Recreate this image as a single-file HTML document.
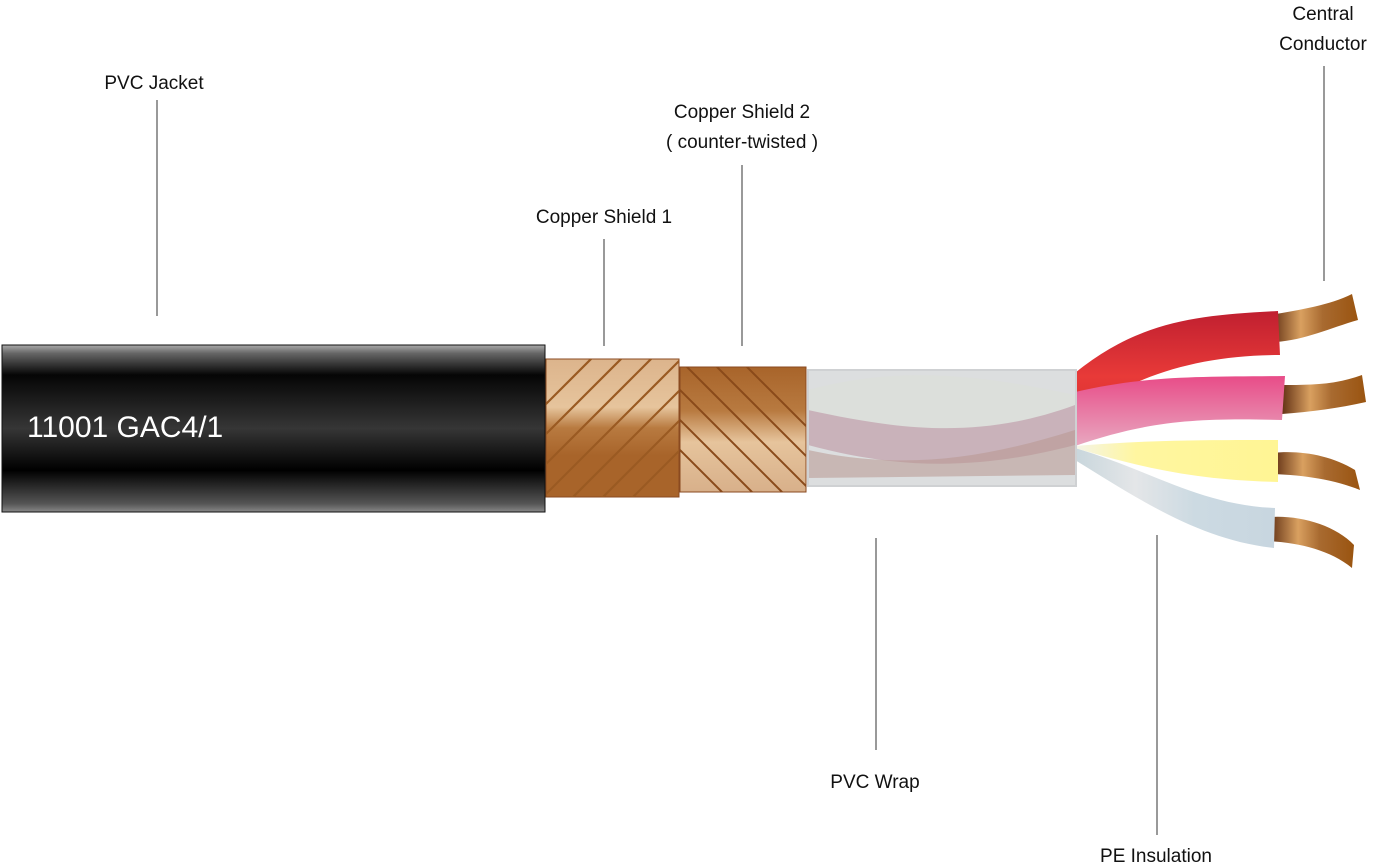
<!DOCTYPE html>
<html><head><meta charset="utf-8"><style>
html,body{margin:0;padding:0;background:#fff;}
svg{display:block;}
text{font-family:"Liberation Sans",sans-serif;font-size:19px;fill:#111;}
</style></head><body>
<svg width="1377" height="868" viewBox="0 0 1377 868" xmlns="http://www.w3.org/2000/svg">
<defs>
<linearGradient id="jk" x1="0" y1="0" x2="0" y2="1">
<stop offset="0" stop-color="#aaa"/><stop offset="0.05" stop-color="#666"/><stop offset="0.18" stop-color="#050505"/><stop offset="0.5" stop-color="#363636"/><stop offset="0.75" stop-color="#000"/><stop offset="0.95" stop-color="#555"/><stop offset="1" stop-color="#888"/>
</linearGradient>
<linearGradient id="s1" x1="0" y1="0" x2="0" y2="1">
<stop offset="0" stop-color="#dcb48c"/><stop offset="0.35" stop-color="#e6c49c"/><stop offset="0.5" stop-color="#b87a40"/><stop offset="0.7" stop-color="#a8642a"/><stop offset="1" stop-color="#a8642a"/>
</linearGradient>
<linearGradient id="s2" x1="0" y1="0" x2="0" y2="1">
<stop offset="0" stop-color="#a8642a"/><stop offset="0.35" stop-color="#b87a40"/><stop offset="0.6" stop-color="#e6c49c"/><stop offset="1" stop-color="#d8b08a"/>
</linearGradient>
<linearGradient id="cu" x1="0" y1="0" x2="1" y2="0">
<stop offset="0" stop-color="#5a2a10"/><stop offset="0.35" stop-color="#d9a060"/><stop offset="0.6" stop-color="#a86a30"/><stop offset="1" stop-color="#9a5410"/>
</linearGradient>
<linearGradient id="red" x1="0" y1="0" x2="0" y2="1"><stop offset="0" stop-color="#c01f30"/><stop offset="0.6" stop-color="#e83a38"/><stop offset="1" stop-color="#d83030"/></linearGradient>
<linearGradient id="pink" x1="0" y1="0" x2="0" y2="1"><stop offset="0" stop-color="#e84c88"/><stop offset="1" stop-color="#e8a8c0"/></linearGradient>
<linearGradient id="yel" x1="0" y1="0" x2="1" y2="0"><stop offset="0" stop-color="#f4f4e8"/><stop offset="0.3" stop-color="#fff6a0"/><stop offset="1" stop-color="#fff594"/></linearGradient>
<linearGradient id="blu" x1="0" y1="0" x2="1" y2="0"><stop offset="0" stop-color="#c8d6dc"/><stop offset="0.3" stop-color="#e4e6e8"/><stop offset="0.6" stop-color="#ccdae2"/><stop offset="1" stop-color="#c8d6e0"/></linearGradient>
<clipPath id="c1"><rect x="546" y="359" width="133" height="138"/></clipPath>
<clipPath id="c2"><rect x="680" y="367" width="126" height="125"/></clipPath>
</defs>
<rect x="2" y="345" width="543" height="167" fill="url(#jk)" stroke="#111" stroke-width="1"/>
<text x="27" y="437" style="font-size:30px;fill:#fff">11001 GAC4/1</text>
<rect x="546" y="359" width="133" height="138" fill="url(#s1)" stroke="#8a4a20"/>
<g clip-path="url(#c1)" stroke="#9a5a22" stroke-width="2.2">
<path d="M520 520 L690 350 M550 520 L720 350 M490 520 L660 350 M460 520 L630 350 M580 520 L750 350 M430 520 L600 350 M610 520 L780 350"/>
</g>
<rect x="680" y="367" width="126" height="125" fill="url(#s2)" stroke="#8a4a20"/>
<g clip-path="url(#c2)" stroke="#8a4a1a" stroke-width="2">
<path d="M660 340 L830 510 M690 340 L860 510 M630 340 L800 510 M600 340 L770 510 M720 340 L890 510 M570 340 L740 510"/>
</g>
<path d="M1270 315 C1300 310 1330 305 1352 294 L1358 320 C1330 328 1305 340 1276 342 Z" fill="url(#cu)"/>
<path d="M1280 385 C1310 385 1335 385 1362 375 L1366 402 C1340 408 1310 412 1282 414 Z" fill="url(#cu)"/>
<path d="M1272 453 C1300 450 1330 455 1355 470 L1360 490 C1335 480 1305 475 1272 474 Z" fill="url(#cu)"/>
<path d="M1270 517 C1300 515 1335 525 1354 545 L1352 568 C1330 550 1300 543 1268 541 Z" fill="url(#cu)"/>
<path d="M1075 373 C1140 320 1200 315 1278 311 L1280 355 C1200 355 1130 375 1075 420 Z" fill="url(#red)"/>
<path d="M1075 392 C1150 375 1200 377 1285 376 L1282 420 C1200 418 1150 420 1075 446 Z" fill="url(#pink)"/>
<path d="M1075 446 C1150 440 1200 440 1278 440 L1278 482 C1200 480 1150 470 1075 448 Z" fill="url(#yel)"/>
<path d="M1075 448 C1150 470 1200 505 1275 508 L1274 548 C1200 540 1140 500 1075 460 Z" fill="url(#blu)"/>
<rect x="808" y="370" width="268" height="116" fill="#d8dadc" opacity="0.9"/>
<path d="M808 390 C900 365 980 375 1075 395 L1075 420 C980 440 900 430 808 418 Z" fill="#dcdfdb"/>
<path d="M808 410 C900 430 980 440 1075 405 L1075 445 C980 470 900 470 808 445 Z" fill="#c6aab4" opacity="0.85"/>
<path d="M808 450 C900 470 980 460 1075 430 L1075 475 L808 478 Z" fill="#b89890" opacity="0.55"/>
<rect x="808" y="370" width="268" height="116" fill="none" stroke="#cfd1d3" stroke-width="2"/>
<g stroke="#333" stroke-width="1">
<line x1="157" y1="100" x2="157" y2="316"/>
<line x1="604" y1="239" x2="604" y2="346"/>
<line x1="742" y1="165" x2="742" y2="346"/>
<line x1="876" y1="538" x2="876" y2="750"/>
<line x1="1157" y1="535" x2="1157" y2="835"/>
<line x1="1324" y1="66" x2="1324" y2="281"/>
</g>
<text x="154" y="89" text-anchor="middle">PVC Jacket</text>
<text x="604" y="223" text-anchor="middle">Copper Shield 1</text>
<text x="742" y="118" text-anchor="middle">Copper Shield 2</text>
<text x="742" y="148" text-anchor="middle">( counter-twisted )</text>
<text x="875" y="788" text-anchor="middle">PVC Wrap</text>
<text x="1156" y="862" text-anchor="middle">PE Insulation</text>
<text x="1323" y="20" text-anchor="middle">Central</text>
<text x="1323" y="50" text-anchor="middle">Conductor</text>
</svg>
</body></html>
